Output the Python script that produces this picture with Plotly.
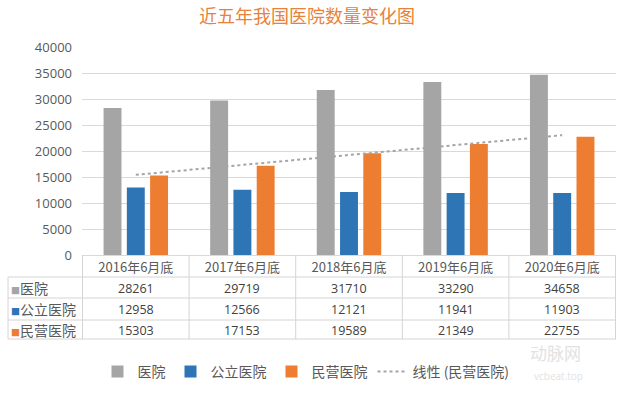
import numpy as np
import plotly.graph_objects as go

# ---------------- data ----------------
categories = ["2016年6月底", "2017年6月底", "2018年6月底", "2019年6月底", "2020年6月底"]
hospitals = [28261, 29719, 31710, 33290, 34658]
public_hospitals = [12958, 12566, 12121, 11941, 11903]
private_hospitals = [15303, 17153, 19589, 21349, 22755]
series_names = ["医院", "公立医院", "民营医院"]
trend_name = "线性 (民营医院)"
title_text = "近五年我国医院数量变化图"
y_ticks = [0, 5000, 10000, 15000, 20000, 25000, 30000, 35000, 40000]

# ---------------- styling ----------------
W, H = 630, 399
L, R, T, B = 82, 14, 47, 144
PW, PH = W - L - R, H - T - B
CJK = "Noto Sans CJK SC"
NUM = "Open Sans"
colors = ["#A5A5A5", "#2E75B6", "#ED7D31"]
grid = "#D9D9D9"
txt = "#595959"


def yp(p):
    return (H - B - p) / PH


def xp(p):
    return (p - L) / PW


series = [hospitals, public_hospitals, private_hospitals]

fig = go.Figure()
for name, vals, c in zip(series_names, series, colors):
    fig.add_trace(go.Bar(x=categories, y=vals, name=name, marker=dict(color=c, line=dict(width=0))))

idx = np.arange(len(categories))
slope, icpt = np.polyfit(idx, private_hospitals, 1)
trend = slope * idx + icpt
fig.add_trace(go.Scatter(x=categories, y=trend, mode="lines", name=trend_name,
                         line=dict(color="#A5A5A5", width=2, dash="dot")))

shapes = []
line_c = "#D4D4D4"
for p in [277, 298, 320, 339]:
    shapes.append(dict(type="line", xref="paper", yref="paper", x0=xp(8), x1=1, y0=yp(p), y1=yp(p),
                       line=dict(color=line_c, width=1)))
shapes.append(dict(type="line", xref="paper", yref="paper", x0=xp(8), x1=xp(8), y0=yp(277), y1=yp(339),
                   line=dict(color=line_c, width=1)))
for i in range(len(categories) + 1):
    shapes.append(dict(type="line", xref="x", yref="paper", x0=i - 0.5, x1=i - 0.5, y0=0, y1=yp(339),
                       line=dict(color=line_c, width=1)))

annotations = []
row_centers = [288, 309, 330]
for name, vals, c, yc in zip(series_names, series, colors, row_centers):
    annotations.append(dict(xref="paper", yref="paper", x=xp(9), y=yp(yc), xanchor="left", yanchor="middle",
                            showarrow=False,
                            text=f"<span style='color:{c};font-size:9px'>■</span>{name}",
                            font=dict(family=CJK, size=14, color=txt)))
    for cat, v in zip(categories, vals):
        annotations.append(dict(xref="x", yref="paper", x=cat, y=yp(yc), xanchor="center", yanchor="middle",
                                showarrow=False, text=str(v),
                                font=dict(family=NUM, size=12.5, color="#404040")))

# watermark
annotations.append(dict(xref="paper", yref="paper", x=xp(583), y=yp(367), showarrow=False,
                        text="动脉网", font=dict(family=CJK, size=17, color="#E2E2E2")))
annotations.append(dict(xref="paper", yref="paper", x=xp(585), y=yp(385), showarrow=False,
                        text="vcbeat.top", font=dict(family=NUM, size=10, color="#E2E2E2")))

fig.update_layout(
    width=W, height=H,
    margin=dict(l=L, r=R, t=T, b=B, pad=0, autoexpand=False),
    paper_bgcolor="white", plot_bgcolor="white",
    title=dict(text=title_text, x=307 / W, xanchor="center", y=1 - 17 / H, yanchor="middle",
               font=dict(family=CJK, size=18, color="#E8823A")),
    barmode="group", bargap=0.345, bargroupgap=0.23,
    xaxis=dict(showgrid=False, showline=True, linecolor=grid, linewidth=1, ticks="",
               tickfont=dict(family=CJK, size=13, color=txt), fixedrange=True),
    yaxis=dict(range=[0, 40000], tickvals=y_ticks, tickformat="d", showgrid=True, gridcolor=grid, gridwidth=1,
               zeroline=False, showline=False, ticks="", ticklabelstandoff=9,
               tickfont=dict(family=NUM, size=13, color=txt)),
    legend=dict(orientation="h", x=xp(306), xanchor="center", y=yp(372), yanchor="middle",
                font=dict(family=CJK, size=14, color=txt), itemwidth=30, tracegroupgap=0,
                bgcolor="rgba(0,0,0,0)"),
    shapes=shapes,
    annotations=annotations,
    showlegend=True,
)

fig.write_html("out.html", config={"displayModeBar": False},
               post_script="document.body.style.margin='0';document.body.style.overflow='hidden';")
